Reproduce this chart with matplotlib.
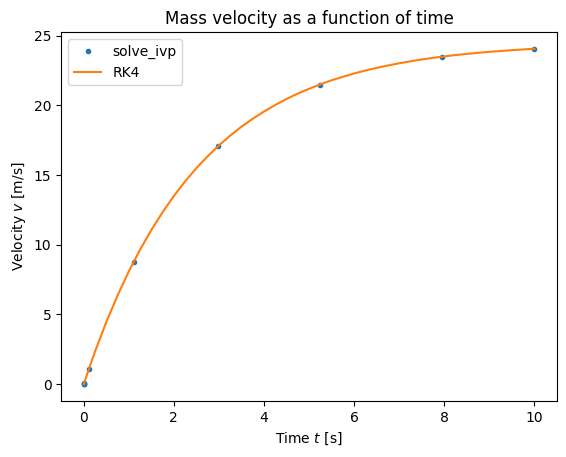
import matplotlib
matplotlib.use("Agg")
import matplotlib.pyplot as plt

# solve_ivp points
t_ivp = [0.0, 0.0001, 0.0011, 0.0111, 0.111, 1.11, 2.99, 5.24, 7.94, 10.0]
v_ivp = [0.0, 0.001, 0.011, 0.11, 1.06, 8.78, 17.10, 21.48, 23.48, 24.05]

# RK4 curve
t_rk4 = [0.0, 0.25, 0.5, 0.75, 1.0, 1.25, 1.5, 1.75, 2.0, 2.25, 2.5, 2.75, 3.0,
         3.25, 3.5, 3.75, 4.0, 4.25, 4.5, 4.75, 5.0, 5.25, 5.5, 5.75, 6.0, 6.25,
         6.5, 6.75, 7.0, 7.25, 7.5, 7.75, 8.0, 8.25, 8.5, 8.75, 9.0, 9.25, 9.5,
         9.75, 10.0]
v_rk4 = [0.0, 2.33, 4.44, 6.35, 8.08, 9.64, 11.05, 12.33, 13.49, 14.54, 15.49,
         16.34, 17.12, 17.82, 18.46, 19.03, 19.55, 20.02, 20.45, 20.84, 21.18,
         21.50, 21.79, 22.04, 22.28, 22.49, 22.68, 22.85, 23.01, 23.15, 23.28,
         23.40, 23.50, 23.60, 23.68, 23.76, 23.83, 23.89, 23.95, 24.00, 24.05]

fig, ax = plt.subplots(figsize=(5.66, 4.57), dpi=100)
fig.subplots_adjust(left=0.108, right=0.984, bottom=0.1225, top=0.930)
ax.plot(t_ivp, v_ivp, '.', label='solve_ivp')
ax.plot(t_rk4, v_rk4, '-', label='RK4')
ax.set_title('Mass velocity as a function of time')
ax.set_xlabel('Time $t$ [s]')
ax.set_ylabel('Velocity $v$ [m/s]')
ax.legend()
fig.savefig('out.png', dpi=100)
